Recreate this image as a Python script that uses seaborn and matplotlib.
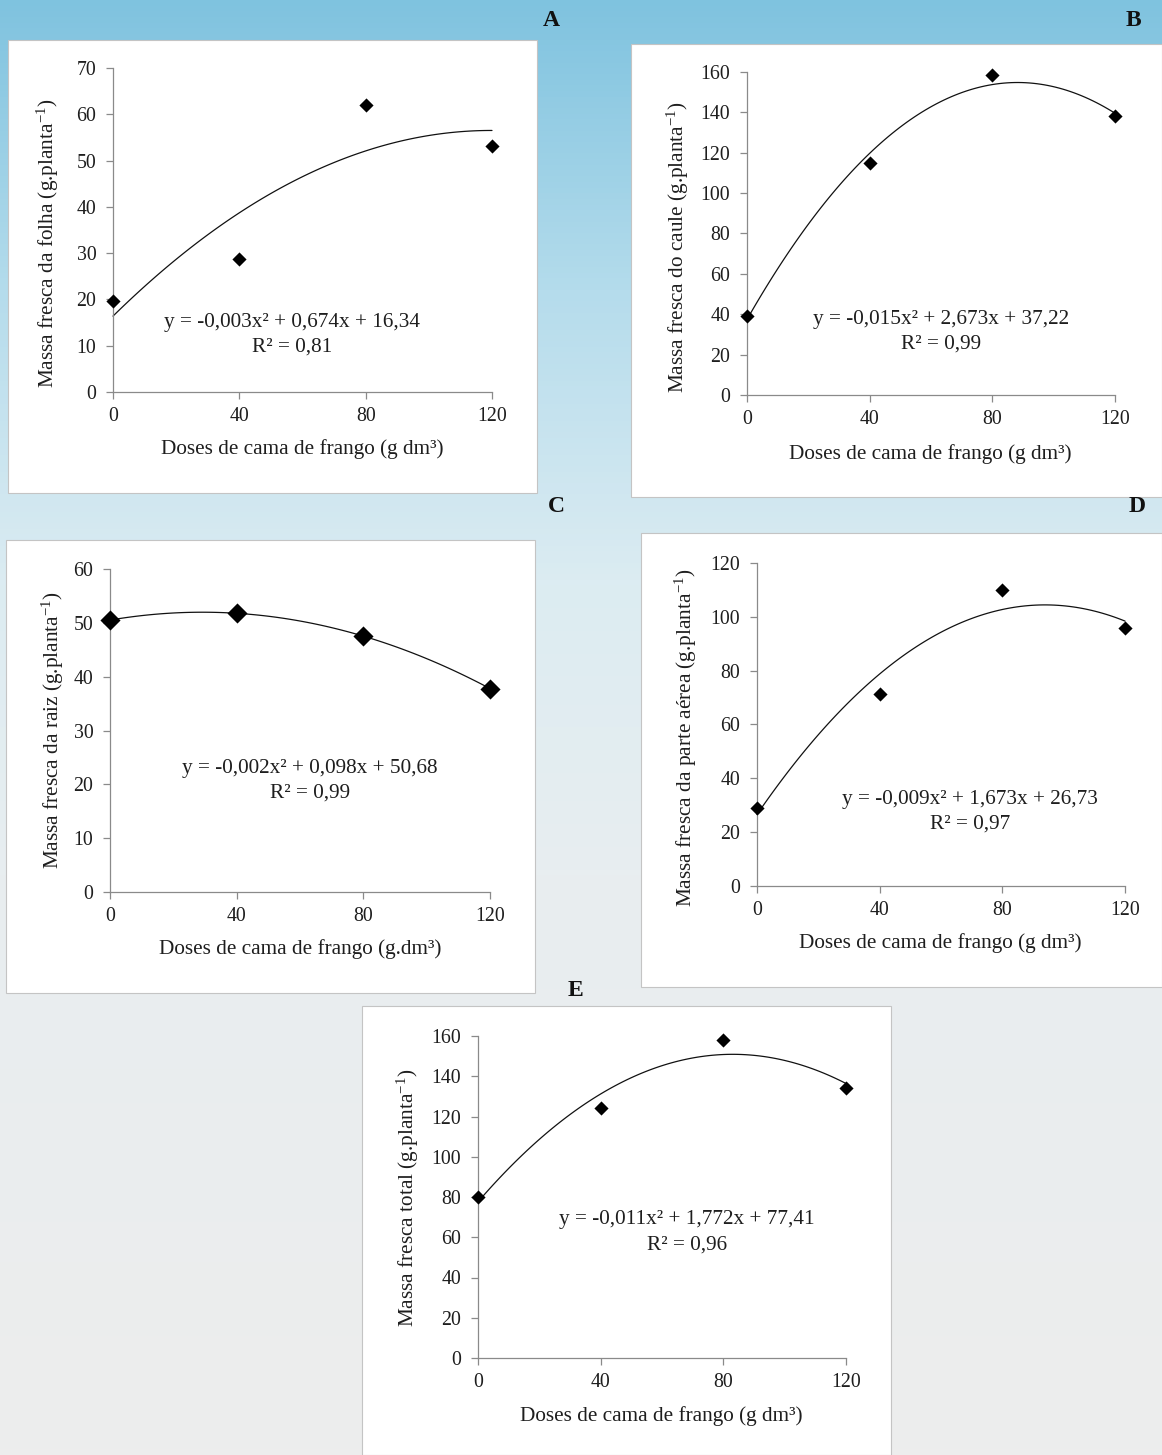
import numpy as np
import pandas as pd
import seaborn as sns
import matplotlib
matplotlib.use("Agg")
import matplotlib.pyplot as plt
from matplotlib.patches import Rectangle
from matplotlib.colors import LinearSegmentedColormap

# ---------------- data ----------------
doses = [0, 40, 80, 120]
folha = [19.7, 28.8, 62.0, 53.2]          # A
caule = [39.0, 115.0, 158.5, 138.0]       # B
raiz = [50.5, 51.8, 47.5, 37.8]           # C
parte_aerea = [29.0, 71.5, 110.0, 96.0]   # D
total = [80.0, 124.0, 158.0, 134.0]       # E

letters = ["A", "B", "C", "D", "E"]
ylabels = [
    "Massa fresca da folha (g.planta$^{\\mathregular{-1}}$)",
    "Massa fresca do caule (g.planta$^{\\mathregular{-1}}$)",
    "Massa fresca da raiz (g.planta$^{\\mathregular{-1}}$)",
    "Massa fresca da parte aérea (g.planta$^{\\mathregular{-1}}$)",
    "Massa fresca total (g.planta$^{\\mathregular{-1}}$)",
]
xlabels = [
    "Doses de cama de frango (g dm³)",
    "Doses de cama de frango (g dm³)",
    "Doses de cama de frango (g.dm³)",
    "Doses de cama de frango (g dm³)",
    "Doses de cama de frango (g dm³)",
]
equations = [
    "y = -0,003x² + 0,674x + 16,34",
    "y = -0,015x² + 2,673x + 37,22",
    "y = -0,002x² + 0,098x + 50,68",
    "y = -0,009x² + 1,673x + 26,73",
    "y = -0,011x² + 1,772x + 77,41",
]
r2_labels = ["R² = 0,81", "R² = 0,99", "R² = 0,99", "R² = 0,97", "R² = 0,96"]
y_max = [70, 160, 60, 120, 160]
y_step = [10, 20, 10, 20, 20]
x_ticks = [0, 40, 80, 120]
series = [folha, caule, raiz, parte_aerea, total]

# ---------------- layout (pixels) ----------------
W, H = 1162, 1455
axes_px = [
    (113, 492, 68, 392),
    (747, 1115, 72, 395),
    (110, 490, 569, 892),
    (757, 1125, 563, 886),
    (478, 846, 1036, 1358),
]
panels_px = [
    (8, 537, 40, 493),
    (631, 1162, 44, 497),
    (6, 535, 540, 993),
    (641, 1162, 533, 987),
    (362, 891, 1006, 1455),
]
letter_px = [(551, 20), (1133, 20), (556, 507), (1137, 507), (575, 991)]
eq_pos = [(56.7, 15.1, 9.7), (63.3, 37.2, 25.3), (63.2, 23.0, 18.4),
          (69.5, 32.0, 23.0), (68.2, 68.6, 56.1)]
ylab_pos = [(-0.172, 0.46), (-0.1875, 0.458), (-0.15, 0.50), (-0.193, 0.458), (-0.19, 0.497)]
xlab_pos = [(0.499, -0.176), (0.497, -0.183), (0.5, -0.176), (0.497, -0.176), (0.497, -0.18)]
marker_s = [52, 52, 105, 52, 52]

sns.set_theme(style="white")
plt.rcParams["font.family"] = ["Liberation Serif", "DejaVu Serif"]
plt.rcParams["mathtext.fontset"] = "custom"
plt.rcParams["mathtext.rm"] = "Liberation Serif"
plt.rcParams["mathtext.it"] = "Liberation Serif:italic"

fig = plt.figure(figsize=(W / 100, H / 100), dpi=100)

# background gradient
bg = fig.add_axes([0, 0, 1, 1], zorder=-10)
cmap = LinearSegmentedColormap.from_list(
    "bg", [(0.0, "#7fc3df"), (0.2, "#b5dcec"), (0.4, "#dcecf2"), (0.6, "#e8eef0"), (1.0, "#ededed")])
grad = np.linspace(0, 1, 256).reshape(-1, 1)
bg.imshow(grad, aspect="auto", cmap=cmap, extent=[0, 1, 0, 1], origin="upper")
bg.set_axis_off()

gray = "#8a8a8a"
txt = "#1e1e1e"
for i in range(5):
    pl, pr, pt, pb = panels_px[i]
    fig.add_artist(Rectangle((pl / W, 1 - pb / H), (pr - pl) / W, (pb - pt) / H,
                             transform=fig.transFigure, facecolor="white",
                             edgecolor="#c4c4c4", lw=0.8, zorder=-5))
    l, r, t, b = axes_px[i]
    ax = fig.add_axes([l / W, 1 - b / H, (r - l) / W, (b - t) / H])
    ax.set_facecolor("none")
    df = pd.DataFrame({"dose": doses, "massa": series[i]})
    sns.regplot(data=df, x="dose", y="massa", order=2, ci=None, ax=ax,
                marker="D", color="black",
                scatter_kws={"s": marker_s[i], "linewidths": 0, "alpha": 1, "zorder": 3},
                line_kws={"lw": 0.9, "color": "#111111"})
    for c in ax.collections:
        c.set_clip_on(False)
    for ln in ax.lines:
        ln.set_clip_on(False)
    ax.set_xlim(0, 120)
    ax.set_ylim(0, y_max[i])
    ax.set_xticks(x_ticks)
    ax.set_yticks(np.arange(0, y_max[i] + 1, y_step[i]))
    sns.despine(ax=ax)
    for sp in ["left", "bottom"]:
        ax.spines[sp].set_color(gray)
        ax.spines[sp].set_linewidth(0.9)
    ax.tick_params(axis="both", direction="out", length=5, width=0.9, color=gray,
                   labelsize=14.3, labelcolor=txt, left=True, bottom=True)
    ax.tick_params(axis="y", pad=7)
    ax.tick_params(axis="x", pad=6)
    ax.set_xlabel(xlabels[i], fontsize=15.3, color=txt)
    ax.set_ylabel(ylabels[i], fontsize=15.3, color=txt)
    ax.xaxis.label.set_va("center")
    ax.yaxis.label.set_va("center")
    ax.xaxis.set_label_coords(*xlab_pos[i])
    ax.yaxis.set_label_coords(*ylab_pos[i])
    ex, ey, ry = eq_pos[i]
    ax.text(ex, ey, equations[i], ha="center", va="center", fontsize=15.3, color=txt)
    ax.text(ex, ry, r2_labels[i], ha="center", va="center", fontsize=15.3, color=txt)
    lx, ly = letter_px[i]
    fig.text(lx / W, 1 - ly / H, letters[i], ha="center", va="center",
             fontsize=17, fontweight="bold", color="#111111")

fig.savefig("out.png", dpi=100)
